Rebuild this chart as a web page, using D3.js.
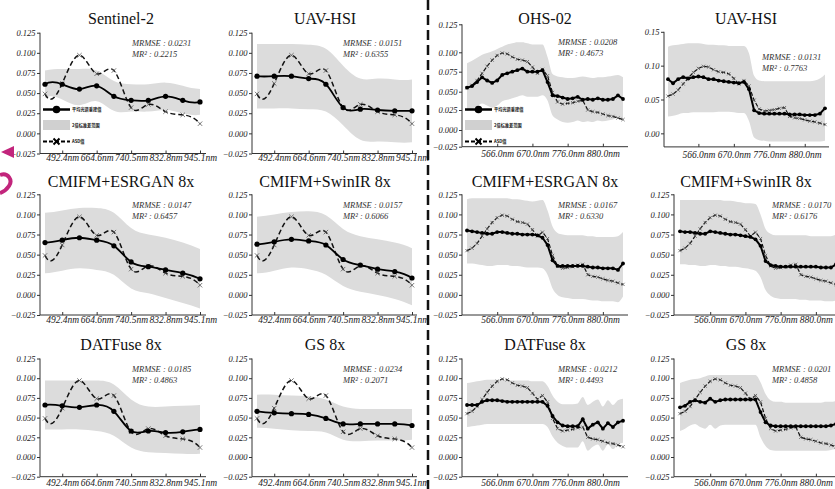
<!DOCTYPE html>
<html><head><meta charset="utf-8">
<script src="https://cdn.jsdelivr.net/npm/d3@7"></script>
<style>body{margin:0;background:#fff}svg{display:block}</style>
</head><body>
<svg id="c" width="835" height="489"></svg>
<script>
// ---------------- DATA ----------------
const s2Wavelengths = ["442.7nm","492.4nm","559.8nm","664.6nm","704.1nm","740.5nm","782.8nm","832.8nm","864.7nm","945.1nm"];
const s2TickIdx = [1,3,5,7,9];
const ohsTickIdx = [6,13,20,27];
const ohsTickLabels = ["566.0nm","670.0nm","776.0nm","880.0nm"];
const yTicksStd = [-0.025,0,0.025,0.05,0.075,0.1,0.125];
const yTicksUav = [0,0.05,0.10,0.15];

const titles = ["Sentinel-2","UAV-HSI","OHS-02","UAV-HSI","CMIFM+ESRGAN 8x","CMIFM+SwinIR 8x","CMIFM+ESRGAN 8x","CMIFM+SwinIR 8x","DATFuse 8x","GS 8x","DATFuse 8x","GS 8x"];
const mrmse = ["0.0231","0.0151","0.0208","0.0131","0.0147","0.0157","0.0167","0.0170","0.0185","0.0234","0.0212","0.0201"];
const mr2   = ["0.2215","0.6355","0.4673","0.7763","0.6457","0.6066","0.6330","0.6176","0.4863","0.2071","0.4493","0.4858"];
const legendLabels = ["平均光谱重建值","2倍标准差范围","ASD值"];

// ground truth (ASD) spectra
const asdS2  = [0.049,0.062,0.097,0.074,0.078,0.032,0.036,0.027,0.023,0.012];
const asdOHS = [0.055,0.058,0.064,0.073,0.082,0.090,0.096,0.099,0.098,0.094,0.091,0.090,0.088,0.081,0.073,0.078,0.070,0.049,0.036,0.033,0.034,0.035,0.037,0.038,0.025,0.023,0.022,0.020,0.018,0.017,0.015,0.013];

// Sentinel-2 based panels (10 bands)
const meanSentinel2 = [0.061,0.061,0.055,0.059,0.046,0.041,0.041,0.046,0.041,0.039];
const hiSentinel2   = [0.078,0.080,0.080,0.078,0.065,0.061,0.061,0.063,0.059,0.055];
const loSentinel2   = [0.044,0.042,0.035,0.040,0.028,0.027,0.027,0.029,0.025,0.023];

const meanUavS2 = [0.071,0.071,0.071,0.068,0.061,0.032,0.030,0.029,0.028,0.028];
const hiUavS2   = [0.111,0.111,0.111,0.110,0.105,0.084,0.068,0.068,0.067,0.067];
const loUavS2   = [0.031,0.031,0.031,0.030,0.027,0.010,-0.008,-0.010,-0.011,-0.011];

const meanEsrganS2 = [0.065,0.068,0.071,0.068,0.061,0.041,0.035,0.031,0.027,0.020];
const hiEsrganS2   = [0.102,0.105,0.108,0.108,0.102,0.083,0.075,0.071,0.065,0.057];
const loEsrganS2   = [0.027,0.030,0.033,0.031,0.025,0.008,0.002,-0.004,-0.010,-0.017];

const meanSwinS2 = [0.063,0.066,0.069,0.067,0.062,0.044,0.037,0.032,0.029,0.021];
const hiSwinS2   = [0.097,0.100,0.103,0.104,0.099,0.082,0.073,0.069,0.065,0.058];
const loSwinS2   = [0.027,0.030,0.034,0.032,0.025,0.011,0.004,0.000,-0.005,-0.013];

const meanDatS2 = [0.066,0.065,0.063,0.066,0.058,0.033,0.033,0.031,0.032,0.035];
const hiDatS2   = [0.097,0.097,0.097,0.097,0.092,0.073,0.064,0.064,0.065,0.066];
const loDatS2   = [0.035,0.035,0.035,0.033,0.027,0.012,0.006,0.005,0.004,0.004];

const meanGsS2 = [0.058,0.056,0.055,0.054,0.049,0.042,0.042,0.042,0.042,0.040];
const hiGsS2   = [0.079,0.079,0.078,0.077,0.073,0.064,0.061,0.061,0.061,0.061];
const loGsS2   = [0.037,0.036,0.034,0.033,0.031,0.022,0.020,0.021,0.021,0.022];

// OHS based panels (32 bands)
const meanOhs = [0.055,0.057,0.062,0.068,0.064,0.061,0.064,0.071,0.073,0.075,0.077,0.079,0.075,0.075,0.075,0.077,0.062,0.045,0.044,0.042,0.040,0.041,0.043,0.039,0.040,0.039,0.041,0.039,0.039,0.040,0.045,0.040];
const hiOhs   = [0.086,0.089,0.093,0.097,0.099,0.101,0.103,0.105,0.107,0.108,0.109,0.109,0.108,0.107,0.107,0.107,0.094,0.072,0.069,0.068,0.067,0.067,0.068,0.069,0.068,0.067,0.068,0.068,0.069,0.070,0.071,0.068];
const loOhs   = [0.024,0.026,0.030,0.034,0.031,0.028,0.031,0.037,0.039,0.041,0.043,0.045,0.043,0.043,0.043,0.045,0.038,0.018,0.013,0.010,0.009,0.010,0.012,0.010,0.011,0.010,0.012,0.011,0.012,0.013,0.016,0.012];

const meanUavOhs = [0.080,0.074,0.080,0.083,0.081,0.083,0.084,0.083,0.080,0.080,0.078,0.077,0.076,0.075,0.074,0.076,0.065,0.034,0.030,0.029,0.029,0.029,0.029,0.029,0.028,0.028,0.028,0.027,0.027,0.027,0.029,0.037];
const hiUavOhs   = [0.128,0.130,0.131,0.132,0.133,0.133,0.133,0.132,0.131,0.131,0.130,0.130,0.129,0.129,0.129,0.129,0.118,0.085,0.078,0.077,0.077,0.077,0.077,0.077,0.077,0.077,0.077,0.077,0.077,0.078,0.081,0.087];
const loUavOhs   = [0.025,0.026,0.028,0.030,0.030,0.031,0.031,0.031,0.031,0.031,0.032,0.032,0.032,0.031,0.030,0.030,0.018,-0.006,-0.010,-0.011,-0.012,-0.012,-0.012,-0.012,-0.012,-0.012,-0.012,-0.012,-0.012,-0.012,-0.012,-0.011];

const meanEsrganOhs = [0.080,0.079,0.078,0.077,0.076,0.076,0.078,0.078,0.077,0.076,0.076,0.075,0.075,0.075,0.074,0.071,0.062,0.043,0.036,0.036,0.036,0.036,0.036,0.036,0.035,0.034,0.034,0.033,0.033,0.033,0.031,0.039];
const hiEsrganOhs   = [0.119,0.120,0.120,0.120,0.120,0.120,0.120,0.120,0.120,0.119,0.119,0.118,0.117,0.116,0.117,0.118,0.105,0.085,0.077,0.075,0.074,0.074,0.074,0.074,0.073,0.073,0.072,0.072,0.072,0.072,0.073,0.078];
const loEsrganOhs   = [0.039,0.039,0.038,0.037,0.036,0.036,0.037,0.037,0.037,0.036,0.036,0.035,0.034,0.034,0.034,0.033,0.025,0.008,0.000,-0.003,-0.004,-0.005,-0.005,-0.005,-0.006,-0.007,-0.007,-0.008,-0.008,-0.008,-0.009,-0.002];

const meanSwinOhs = [0.079,0.078,0.078,0.077,0.076,0.076,0.079,0.078,0.077,0.076,0.075,0.075,0.074,0.073,0.072,0.069,0.061,0.042,0.037,0.036,0.035,0.035,0.035,0.035,0.035,0.035,0.035,0.035,0.034,0.034,0.034,0.038];
const hiSwinOhs   = [0.118,0.118,0.118,0.118,0.118,0.118,0.118,0.118,0.118,0.117,0.117,0.116,0.115,0.114,0.114,0.113,0.100,0.082,0.076,0.074,0.074,0.074,0.074,0.074,0.074,0.074,0.073,0.073,0.073,0.073,0.073,0.075];
const loSwinOhs   = [0.038,0.038,0.037,0.037,0.036,0.036,0.037,0.037,0.036,0.036,0.035,0.035,0.034,0.033,0.032,0.030,0.022,0.006,-0.001,-0.004,-0.005,-0.005,-0.005,-0.005,-0.006,-0.006,-0.007,-0.007,-0.007,-0.008,-0.008,-0.007];

const meanDatOhs = [0.066,0.066,0.066,0.070,0.072,0.072,0.072,0.071,0.070,0.070,0.070,0.070,0.070,0.070,0.070,0.070,0.065,0.052,0.044,0.040,0.039,0.039,0.039,0.048,0.036,0.041,0.044,0.036,0.043,0.038,0.044,0.046];
const hiDatOhs   = [0.094,0.095,0.096,0.097,0.098,0.098,0.098,0.098,0.097,0.097,0.097,0.097,0.097,0.096,0.096,0.096,0.090,0.078,0.070,0.067,0.067,0.067,0.068,0.076,0.066,0.070,0.073,0.064,0.072,0.066,0.072,0.074];
const loDatOhs   = [0.038,0.039,0.040,0.041,0.042,0.042,0.042,0.042,0.042,0.042,0.042,0.042,0.042,0.042,0.042,0.042,0.038,0.026,0.018,0.014,0.012,0.012,0.012,0.020,0.008,0.013,0.016,0.008,0.016,0.010,0.016,0.018];

const meanGsOhs = [0.063,0.065,0.070,0.072,0.070,0.069,0.074,0.070,0.072,0.073,0.073,0.073,0.073,0.073,0.073,0.073,0.057,0.044,0.040,0.039,0.039,0.039,0.039,0.039,0.039,0.039,0.039,0.039,0.039,0.039,0.040,0.042];
const hiGsOhs   = [0.094,0.096,0.098,0.099,0.100,0.102,0.104,0.104,0.104,0.104,0.104,0.104,0.104,0.104,0.104,0.104,0.095,0.080,0.072,0.070,0.070,0.069,0.069,0.069,0.069,0.069,0.069,0.069,0.069,0.070,0.070,0.071];
const loGsOhs   = [0.033,0.036,0.040,0.042,0.038,0.036,0.041,0.036,0.040,0.041,0.041,0.041,0.041,0.041,0.041,0.041,0.025,0.014,0.009,0.008,0.008,0.008,0.008,0.008,0.008,0.008,0.008,0.008,0.008,0.008,0.009,0.010];

// ---------------- PANELS ----------------
const panels = [
  {mean:meanSentinel2, hi:hiSentinel2, lo:loSentinel2, kind:"s2"},
  {mean:meanUavS2,     hi:hiUavS2,     lo:loUavS2,     kind:"s2"},
  {mean:meanOhs,       hi:hiOhs,       lo:loOhs,       kind:"ohs"},
  {mean:meanUavOhs,    hi:hiUavOhs,    lo:loUavOhs,    kind:"ohs"},
  {mean:meanEsrganS2,  hi:hiEsrganS2,  lo:loEsrganS2,  kind:"s2"},
  {mean:meanSwinS2,    hi:hiSwinS2,    lo:loSwinS2,    kind:"s2"},
  {mean:meanEsrganOhs, hi:hiEsrganOhs, lo:loEsrganOhs, kind:"ohs"},
  {mean:meanSwinOhs,   hi:hiSwinOhs,   lo:loSwinOhs,   kind:"ohs"},
  {mean:meanDatS2,     hi:hiDatS2,     lo:loDatS2,     kind:"s2"},
  {mean:meanGsS2,      hi:hiGsS2,      lo:loGsS2,      kind:"s2"},
  {mean:meanDatOhs,    hi:hiDatOhs,    lo:loDatOhs,    kind:"ohs"},
  {mean:meanGsOhs,     hi:hiGsOhs,     lo:loGsOhs,     kind:"ohs"}
];

// ---------------- LAYOUT ----------------
const colL = [
  {ax:40,  x0:45,  x1:200, end:206, tx:121, sx:132},
  {ax:252, x0:257, x1:412, end:417, tx:325, sx:343},
  {ax:462, x0:467, x1:623, end:628, tx:545, sx:558},
  {ax:674, x0:680, x1:836, end:842, tx:746, sx:772}
];
const rowL = [
  {top:32.7,  bot:153.5, ty:24,  sy:45.5, pad:0.5},
  {top:194.3, bot:315,   ty:187, sy:208,  pad:1.5},
  {top:358.5, bot:476.7, ty:350, sy:371.5, pad:3}
];

// ---------------- not-a-knot cubic spline curve ----------------
function nakSlopes(v){
  const n = v.length, d = [];
  for (let i=0;i<n-1;i++) d.push(v[i+1]-v[i]);
  const A = Array.from({length:n}, () => new Array(n).fill(0)), b = new Array(n).fill(0);
  A[0][0]=1; A[0][2]=-1; b[0]=2*(d[0]-d[1]);
  for (let i=1;i<n-1;i++){ A[i][i-1]=1; A[i][i]=4; A[i][i+1]=1; b[i]=3*(v[i+1]-v[i-1]); }
  A[n-1][n-1]=1; A[n-1][n-3]=-1; b[n-1]=2*(d[n-2]-d[n-3]);
  for (let c=0;c<n;c++){
    let p=c; for (let r=c+1;r<n;r++) if (Math.abs(A[r][c])>Math.abs(A[p][c])) p=r;
    [A[c],A[p]]=[A[p],A[c]]; [b[c],b[p]]=[b[p],b[c]];
    for (let r=c+1;r<n;r++){ const f=A[r][c]/A[c][c]; if(!f) continue;
      for (let k=c;k<n;k++) A[r][k]-=f*A[c][k]; b[r]-=f*b[c]; }
  }
  const m = new Array(n).fill(0);
  for (let r=n-1;r>=0;r--){ let s=b[r]; for (let k=r+1;k<n;k++) s-=A[r][k]*m[k]; m[r]=s/A[r][r]; }
  return m;
}
function CurveNAK(ctx){ this._context = ctx; }
CurveNAK.prototype = {
  areaStart(){ this._line = 0; },
  areaEnd(){ this._line = NaN; },
  lineStart(){ this._x=[]; this._y=[]; },
  point(x,y){ this._x.push(+x); this._y.push(+y); },
  lineEnd(){
    const x=this._x, y=this._y, n=x.length, c=this._context;
    if (n){
      this._line ? c.lineTo(x[0],y[0]) : c.moveTo(x[0],y[0]);
      if (n<4){ for (let i=1;i<n;i++) c.lineTo(x[i],y[i]); }
      else {
        const mx=nakSlopes(x), my=nakSlopes(y);
        for (let i=0;i<n-1;i++) c.bezierCurveTo(x[i]+mx[i]/3, y[i]+my[i]/3, x[i+1]-mx[i+1]/3, y[i+1]-my[i+1]/3, x[i+1], y[i+1]);
      }
    }
    if (this._line || (this._line !== 0 && n === 1)) c.closePath();
    this._line = 1 - this._line;
  }
};
const curveNAK = ctx => new CurveNAK(ctx);

// ---------------- DRAW ----------------
const svg = d3.select("#c");
svg.append("rect").attr("width",835).attr("height",489).attr("fill","#fff");
const SERIF = "'Liberation Serif','Times New Roman',serif";

function xMark(sel, cx, cy, s, w, col){
  sel.append("path").attr("d",`M${cx-s},${cy-s}L${cx+s},${cy+s}M${cx-s},${cy+s}L${cx+s},${cy-s}`)
    .attr("stroke",col).attr("stroke-width",w).attr("fill","none");
}

panels.forEach((p,k)=>{
  const col = k%4, row = Math.floor(k/4);
  const C = Object.assign({}, colL[col]), R = Object.assign({}, rowL[row]);
  let yDom = [-0.025,0.125], yRange = [R.bot, R.top], yTicks = yTicksStd, yFmt = d3.format(".3f");
  let xPad = R.pad;
  if (k===2){ // OHS-02 panel axis
    R.bot = 146.7; R.top = 24.3;
    yDom = [-0.025,0,0.025,0.05,0.075,0.1,0.125];
    yRange = [146.7,130,110,91.7,71.7,52.3,24.3];
    xPad = 4; R.sy = 45;
  }
  if (k===3){ // UAV-HSI top-right
    Object.assign(C,{ax:664, x0:668, x1:825, end:829, sx:762});
    R.bot = 146.9; R.top = 31.8; yDom=[-0.02,0.15]; yRange=[146.9,31.8];
    yTicks = yTicksUav; yFmt = d3.format(".2f"); xPad = 4; R.sy = 60;
  }
  const n = p.mean.length;
  const isS2 = p.kind==="s2";
  const asd = isS2 ? asdS2 : asdOHS;
  const x = d3.scaleLinear().domain([0,n-1]).range([C.x0,C.x1]);
  const y = d3.scaleLinear().domain(yDom).range(yRange);
  const g = svg.append("g");
  const idx = d3.range(n);

  // band
  g.append("path").datum(idx)
    .attr("d", d3.area().x(i=>x(i)).y0(i=>y(p.lo[i])).y1(i=>y(p.hi[i])).curve(isS2?curveNAK:d3.curveMonotoneX))
    .attr("fill","#dcdcdc");

  // axes
  const ya = g.append("g").attr("transform",`translate(${C.ax},0)`)
    .call(d3.axisLeft(y).tickValues(yTicks).tickSize(3).tickPadding(1.5).tickFormat(yFmt));
  ya.select(".domain").remove();
  ya.selectAll("line").attr("stroke","#333");
  ya.selectAll("text").attr("font-family",SERIF).attr("font-style","italic").attr("font-size",8.5).attr("fill","#222");
  g.append("line").attr("x1",C.ax).attr("x2",C.ax).attr("y1",R.top).attr("y2",R.bot).attr("stroke","#333").attr("stroke-width",1);

  const tIdx = isS2 ? s2TickIdx : ohsTickIdx;
  const tLab = isS2 ? s2TickIdx.map(i=>s2Wavelengths[i]) : ohsTickLabels;
  const xa = g.append("g").attr("transform",`translate(0,${R.bot})`)
    .call(d3.axisBottom(x).tickValues(tIdx).tickSizeInner(-3).tickSizeOuter(0).tickPadding(xPad).tickFormat((d,i)=>tLab[i]));
  xa.select(".domain").remove();
  xa.selectAll("line").attr("stroke","#333");
  xa.selectAll("text").attr("font-family",SERIF).attr("font-style","italic").attr("font-size",9.5).attr("fill","#222");
  g.append("line").attr("x1",C.ax).attr("x2",C.end).attr("y1",R.bot).attr("y2",R.bot).attr("stroke","#333").attr("stroke-width",1);

  // ASD (dashed)
  g.append("path").datum(idx)
    .attr("d", d3.line().x(i=>x(i)).y(i=>y(asd[i])).curve(isS2?curveNAK:d3.curveLinear))
    .attr("fill","none").attr("stroke","#111").attr("stroke-width", isS2?1.5:1.2)
    .attr("stroke-dasharray", isS2?"5,3":"4,2");
  idx.forEach(i=> xMark(g, x(i), y(asd[i]), isS2?2.2:1.6, 0.8, "#555"));

  // mean line
  g.append("path").datum(idx)
    .attr("d", d3.line().x(i=>x(i)).y(i=>y(p.mean[i])).curve(isS2?curveNAK:d3.curveLinear))
    .attr("fill","none").attr("stroke","#000").attr("stroke-width", isS2?1.8:2);
  g.selectAll("circle.m").data(idx).enter().append("circle").attr("class","m")
    .attr("cx",i=>x(i)).attr("cy",i=>y(p.mean[i])).attr("r", isS2?2.6:1.9).attr("fill","#000");

  // title
  g.append("text").attr("x",C.tx).attr("y",R.ty).attr("text-anchor","middle")
    .attr("font-family",SERIF).attr("font-size",16).attr("fill","#111").text(titles[k]);
  // stats
  g.append("text").attr("x",C.sx).attr("y",R.sy).attr("font-family",SERIF).attr("font-style","italic")
    .attr("font-size",8.5).attr("fill","#333").text("MRMSE : "+mrmse[k]);
  g.append("text").attr("x",C.sx).attr("y",R.sy+11).attr("font-family",SERIF).attr("font-style","italic")
    .attr("font-size",8.5).attr("fill","#333").text("MR² : "+mr2[k]);

  // legend
  if (k===0 || k===2){
    const lx0 = C.ax+3, lx1 = C.ax+30, lm = (lx0+lx1)/2;
    const lg = g.append("g");
    lg.append("line").attr("x1",lx0).attr("x2",lx1).attr("y1",109.5).attr("y2",109.5).attr("stroke","#000").attr("stroke-width",2.5);
    lg.append("circle").attr("cx",lm).attr("cy",109.5).attr("r",3.8).attr("fill","#000");
    lg.append("rect").attr("x",lx0).attr("y",120).attr("width",lx1-lx0).attr("height",10).attr("fill","#d0d0d0");
    lg.append("line").attr("x1",lx0).attr("x2",lx1).attr("y1",141.5).attr("y2",141.5).attr("stroke","#000").attr("stroke-width",2).attr("stroke-dasharray","4,2");
    xMark(lg, lm, 141.5, 3, 2, "#000");
    [111,126.5,143].forEach((yy,i)=>{
      lg.append("text").attr("x",lx1+2).attr("y",yy).attr("font-family","'Noto Sans CJK SC',sans-serif")
        .attr("font-weight","bold").attr("font-size",4.2).attr("fill","#111").text(legendLabels[i]);
    });
  }
});

// vertical dashed divider
svg.append("line").attr("x1",428).attr("x2",428).attr("y1",0).attr("y2",489)
  .attr("stroke","#111").attr("stroke-width",2.5).attr("stroke-dasharray","10,5");

// magenta marks at left edge
svg.append("path").attr("d","M1,152L14,146L14,158Z").attr("fill","#c2257c");
svg.append("path").attr("d","M0,175C8,172 13,180 9,186C7,189 3,192 0,193").attr("fill","none")
  .attr("stroke","#c2257c").attr("stroke-width",4);
</script>
</body></html>
